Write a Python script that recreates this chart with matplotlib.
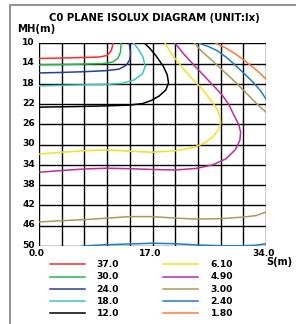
import matplotlib.pyplot as plt
from matplotlib.lines import Line2D
from matplotlib.patches import Rectangle
import numpy as np

# Isolux levels (lx) and colours, legend order
levels = ["37.0", "30.0", "24.0", "18.0", "12.0", "6.10", "4.90", "3.00", "2.40", "1.80"]
colors = ['#ff2a2a', '#22b84a', '#2a3c9c', '#3cc8bc', '#000000',
          '#f2e21e', '#c02aa0', '#a89c58', '#1f7cc8', '#ff7a3c']

# Contour traces: (S in m, MH in m)
c37 = [(0, 13.0), (3.4, 12.9), (6.8, 12.8), (9.0, 12.7), (10.2, 12.4), (10.8, 11.5), (11.0, 10.6), (11.05, 10)]
c30 = [(0, 14.25), (3.4, 14.2), (6.8, 14.1), (9.5, 14.0), (11.0, 13.7), (11.8, 13.0), (12.2, 11.8), (12.3, 10)]
c24 = [(0, 15.85), (3.4, 15.75), (6.8, 15.6), (10.0, 15.4), (12.0, 15.1), (13.1, 14.3), (13.6, 13.2),
       (13.7, 12.0), (13.6, 10.8), (13.5, 10)]
c18 = [(0, 18.4), (3.4, 18.3), (6.8, 18.2), (10.2, 18.1), (12.5, 17.9), (14.3, 17.2), (15.5, 16.0),
       (15.9, 14.6), (15.6, 12.8), (14.9, 11.2), (14.2, 10)]
c12 = [(0, 22.6), (5.0, 22.5), (10.0, 22.35), (13.5, 22.2), (15.5, 21.9), (16.8, 21.3), (18.0, 20.4),
       (19.0, 19.2), (19.4, 17.8), (19.2, 16.2), (18.6, 14.5), (17.6, 12.6), (16.6, 11.0), (15.8, 10)]
c610 = [(0, 31.85), (3.4, 31.5), (6.8, 31.2), (10.2, 31.05), (13.6, 31.3), (17.0, 31.5), (20.4, 31.2),
        (23.0, 30.6), (24.8, 29.7), (26.1, 28.4), (26.9, 27.0), (27.2, 25.8), (27.1, 24.5), (26.6, 22.8),
        (25.6, 21.0), (24.3, 18.8), (22.8, 16.8), (21.3, 14.5), (19.9, 12.2), (18.9, 10)]
c490 = [(0, 35.45), (3.4, 35.1), (6.8, 34.8), (10.2, 34.65), (13.6, 34.75), (17.0, 34.9), (20.4, 35.0),
        (23.5, 34.7), (26.0, 34.0), (28.0, 32.8), (29.4, 31.0), (30.1, 29.1), (30.2, 27.5), (29.9, 26.0),
        (29.2, 24.2), (28.4, 22.0), (27.3, 20.0), (26.0, 18.2), (24.5, 16.1), (23.0, 14.0), (21.6, 12.0),
        (20.4, 10)]
c300_top = [(23.3, 10), (24.3, 11.5), (25.6, 13.0), (26.9, 14.6), (28.3, 16.3), (29.7, 18.0),
            (31.1, 19.9), (32.6, 21.9), (34.0, 23.6)]
c300_bot = [(0, 45.25), (3.4, 45.0), (6.8, 44.8), (10.2, 44.5), (13.6, 44.2), (17.0, 44.2), (20.4, 44.5),
            (23.8, 44.7), (27.2, 44.6), (30.6, 44.3), (32.5, 44.0), (34.0, 43.3)]
c240_top = [(24.0, 10), (25.3, 10.6), (26.6, 11.4), (28.0, 12.7), (29.3, 14.2), (30.6, 15.8),
            (32.0, 17.6), (33.2, 19.4), (34.0, 21.0)]
c240_bot = [(6.5, 50), (8.5, 49.85), (10.2, 49.75), (13.6, 49.6), (17.0, 49.45), (20.4, 49.55),
            (23.8, 49.8), (27.2, 49.95), (30.6, 49.95), (32.5, 49.85), (34.0, 49.55)]
c180 = [(26.5, 10), (27.8, 10.8), (29.2, 11.9), (30.6, 13.2), (32.0, 14.7), (33.2, 16.0), (34.0, 17.1)]

curves = [[c37], [c30], [c24], [c18], [c12], [c610], [c490],
          [c300_top, c300_bot], [c240_top, c240_bot], [c180]]

x_ticks = np.arange(0, 34.01, 3.4)
y_ticks = np.arange(10, 50.01, 4)

W, H = 296, 324
fig = plt.figure(figsize=(W / 100, H / 100), dpi=100)
fig.patch.set_facecolor('white')

def fx(px):
    return px / W

def fy(py):
    return 1 - py / H

ax = fig.add_axes([fx(39), fy(246), fx(266) - fx(39), fy(43.3) - fy(246)])
ax.set_xlim(0, 34)
ax.set_ylim(50, 10)

for xv in x_ticks:
    ax.axvline(xv, color='black', lw=1.0, zorder=1)
for yv in y_ticks:
    ax.axhline(yv, color='black', lw=1.0, zorder=1)

for segs, c in zip(curves, colors):
    for seg in segs:
        pts = np.array(seg)
        ax.plot(pts[:, 0], pts[:, 1], color=c, lw=1.1, zorder=3, clip_on=True)

for s in ax.spines.values():
    s.set_visible(False)
ax.set_xticks([])
ax.set_yticks([])

font = dict(family='DejaVu Sans', fontweight='bold')

# y tick labels
for yv in y_ticks:
    ax.text(-0.6, yv - 0.15, f"{yv:.0f}", ha='right', va='center', fontsize=6.6, **font)
# x tick labels
for xv, lab in zip([0, 17, 34], ["0.0", "17.0", "34.0"]):
    ax.text(xv - 0.3, 50.55, lab, ha='center', va='top', fontsize=6.6, **font)

fig.text(fx(154), fy(18.3), "C0 PLANE ISOLUX DIAGRAM (UNIT:lx)", ha='center', va='center',
         fontsize=7.3, **font)
fig.text(fx(17), fy(29.3), "MH(m)", ha='left', va='center', fontsize=7.3, **font)
fig.text(fx(266.5), fy(262.3), "S(m)", ha='left', va='center', fontsize=7.0, **font)

# legend, two columns of five
row_y = [264.3, 276.7, 289.0, 301.0, 313.3]
for i, (lab, c) in enumerate(zip(levels, colors)):
    col, row = divmod(i, 5)
    x0 = 50 if col == 0 else 163.3
    xt = 96.7 if col == 0 else 210.7
    yy = fy(row_y[row])
    fig.add_artist(Line2D([fx(x0), fx(x0 + 35)], [yy, yy], color=c, lw=1.1,
                          transform=fig.transFigure))
    fig.text(fx(xt), yy, lab, ha='left', va='center', fontsize=6.6, **font)

# outer gray frame
fig.add_artist(Rectangle((fx(9.5), -0.1), 1.2, fy(5) + 0.1, transform=fig.transFigure,
                         fill=False, edgecolor='#808080', lw=1.2))

fig.savefig("out.png", dpi=100)
